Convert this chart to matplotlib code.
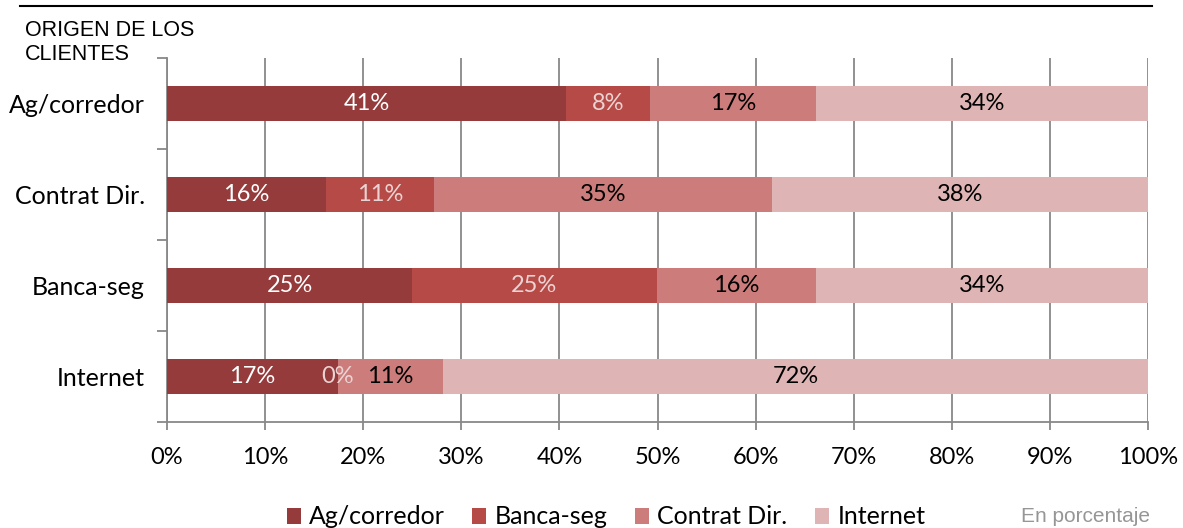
import matplotlib
matplotlib.use("Agg")
import matplotlib.pyplot as plt
from matplotlib.patches import Patch
from matplotlib.lines import Line2D
import numpy as np

categories = ["Ag/corredor", "Contrat Dir.", "Banca-seg", "Internet"]
series_names = ["Ag/corredor", "Banca-seg", "Contrat Dir.", "Internet"]
ag_corredor = [40.7, 16.2, 25.0, 17.4]
banca_seg = [8.5, 11.0, 24.9, 0.0]
contrat_dir = [17.0, 34.5, 16.3, 10.7]
internet = [33.8, 38.3, 33.8, 71.9]
label_texts = [
    ["41%", "16%", "25%", "17%"],
    ["8%", "11%", "25%", "0%"],
    ["17%", "35%", "16%", "11%"],
    ["34%", "38%", "34%", "72%"],
]
x_ticks = [0, 10, 20, 30, 40, 50, 60, 70, 80, 90, 100]
x_tick_labels = [f"{t}%" for t in x_ticks]

colors = ["#953B3B", "#B64A47", "#CC7C7A", "#DFB4B4"]
text_colors = ["white", "#EBD3D3", "black", "black"]

FONT = "Lato"
fig = plt.figure(figsize=(11.83, 5.28), dpi=100)
ax = fig.add_axes([167/1183, 1-422/528, (1148-167)/1183, (422-58)/528])

y = np.arange(len(categories))
left = np.zeros(len(categories))
all_series = [ag_corredor, banca_seg, contrat_dir, internet]
for i, vals in enumerate(all_series):
    bars = ax.barh(y, vals, left=left, height=0.385, color=colors[i], zorder=3)
    ax.bar_label(bars, labels=label_texts[i], label_type="center",
                 color=text_colors[i], fontsize=17, family=FONT, zorder=4)
    left = left + np.array(vals)

ax.set_xlim(0, 100)
ax.set_ylim(3.5, -0.5)
ax.set_xticks(x_ticks)
ax.set_xticklabels(x_tick_labels, family=FONT, fontsize=17)
ax.set_yticks(y)
ax.set_yticklabels(categories, family=FONT, fontsize=18)
ax.tick_params(axis="y", which="major", length=0, pad=16)
ax.set_yticks([-0.5, 0.5, 1.5, 2.5, 3.5], minor=True)
ax.tick_params(axis="y", which="minor", length=7.5, width=1.3, color="#888888")
ax.tick_params(axis="x", length=6, width=1.3, color="#888888", pad=12)
ax.grid(axis="x", color="#888888", linewidth=1.3, zorder=0)
for s in ["top", "right"]:
    ax.spines[s].set_visible(False)
for s in ["left", "bottom"]:
    ax.spines[s].set_color("#888888")
    ax.spines[s].set_linewidth(1.3)

# top rule
fig.add_artist(Line2D([20/1183, 1152/1183], [1-6/528, 1-6/528], color="black", linewidth=1.5))

fig.text(25/1183, 1-30/528, "ORIGEN DE LOS", family="Liberation Sans", fontsize=15.5, va="center", ha="left")
fig.text(25/1183, 1-55/528, "CLIENTES", family="Liberation Sans", fontsize=15.5, va="center", ha="left")
fig.text(1150/1183, 1-517/528, "En porcentaje", family="Liberation Sans", fontsize=15,
         color="#969696", va="center", ha="right")

handles = [Patch(facecolor=c, edgecolor="none") for c in colors]
leg = fig.legend(handles, series_names, loc="center", bbox_to_anchor=(606/1183, 1-517/528),
                 ncol=4, frameon=False, prop={"family": FONT, "size": 18},
                 handlelength=0.56, handleheight=0.6, handletextpad=0.32, columnspacing=1.12)

fig.savefig("out.png", dpi=100)
